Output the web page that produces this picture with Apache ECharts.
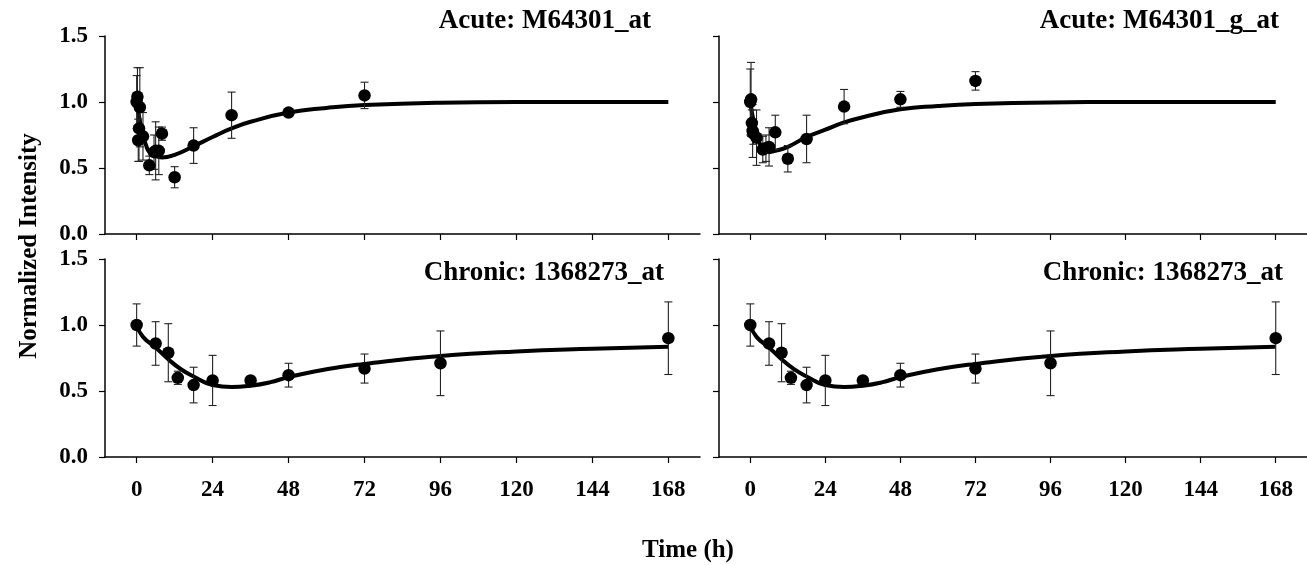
<!DOCTYPE html>
<html>
<head>
<meta charset="utf-8">
<script src="https://cdn.jsdelivr.net/npm/echarts@6/dist/echarts.min.js"></script>
<style>
html,body{margin:0;padding:0;background:#fff;}
#chart{width:1307px;height:565px;}
</style>
</head>
<body>
<div id="chart"></div>
<script>
// ---------- Data ----------
const panelTitles = ['Acute: M64301_at', 'Acute: M64301_g_at', 'Chronic: 1368273_at', 'Chronic: 1368273_at'];
const xTickValues = [0, 24, 48, 72, 96, 120, 144, 168];
const yTickValues = [0, 0.5, 1.0, 1.5];

// Panel A: Acute M64301_at (observed means, SD)
const acuteA_t   = [0, 0.25, 0.5, 0.75, 1, 2, 4, 5.5, 6, 7, 8, 12, 18, 30, 48, 72];
const acuteA_v   = [1.00, 1.04, 0.71, 0.80, 0.96, 0.74, 0.52, 0.62, 0.63, 0.63, 0.76, 0.43, 0.67, 0.90, 0.92, 1.05];
const acuteA_e   = [0.20, 0.22, 0.16, 0.25, 0.30, 0.18, 0.07, 0.13, 0.22, 0.18, 0.05, 0.08, 0.135, 0.175, 0.02, 0.10];
// fitted curve
const acuteA_ft  = [0, 1, 2, 3, 4, 6, 8, 12, 18, 24, 30, 36, 48, 60, 72, 96, 120, 144, 168];
const acuteA_fv  = [1.0, 0.86, 0.75, 0.67, 0.62, 0.59, 0.58, 0.60, 0.665, 0.735, 0.80, 0.85, 0.92, 0.955, 0.977, 0.995, 1.0, 1.0, 1.0];

// Panel B: Acute M64301_g_at
const acuteB_t   = [0, 0.25, 0.5, 0.75, 1, 2, 4, 5, 6, 8, 12, 18, 30, 48, 72];
const acuteB_v   = [1.00, 1.02, 0.84, 0.78, 0.76, 0.73, 0.64, 0.65, 0.66, 0.77, 0.57, 0.72, 0.965, 1.02, 1.16];
const acuteB_e   = [0.25, 0.28, 0.10, 0.20, 0.08, 0.21, 0.10, 0.10, 0.145, 0.13, 0.10, 0.18, 0.13, 0.06, 0.07];
const acuteB_ft  = [0, 1, 2, 3, 4, 6, 8, 12, 18, 24, 30, 36, 48, 60, 72, 96, 120, 144, 168];
const acuteB_fv  = [1.0, 0.86, 0.76, 0.69, 0.65, 0.62, 0.63, 0.66, 0.735, 0.79, 0.845, 0.885, 0.945, 0.97, 0.985, 0.997, 1.0, 1.0, 1.0];

// Panels C/D: Chronic 1368273_at
const chronic_t  = [0, 6, 10, 13, 18, 24, 36, 48, 72, 96, 168];
const chronic_v  = [1.00, 0.86, 0.79, 0.60, 0.545, 0.58, 0.58, 0.62, 0.67, 0.71, 0.90];
const chronic_e  = [0.16, 0.165, 0.22, 0.05, 0.135, 0.19, 0.02, 0.09, 0.11, 0.245, 0.275];
const chronic_ft = [0, 2, 6, 10, 14, 18, 24, 30, 36, 42, 48, 60, 72, 96, 120, 144, 168];
const chronic_fv = [1.0, 0.91, 0.83, 0.74, 0.665, 0.61, 0.545, 0.53, 0.54, 0.565, 0.605, 0.665, 0.705, 0.765, 0.80, 0.82, 0.835];

// ---------- Build ----------
const FONT = 'Liberation Serif';
const panels = [
  {t: acuteA_t, v: acuteA_v, e: acuteA_e, ft: acuteA_ft, fv: acuteA_fv},
  {t: acuteB_t, v: acuteB_v, e: acuteB_e, ft: acuteB_ft, fv: acuteB_fv},
  {t: chronic_t, v: chronic_v, e: chronic_e, ft: chronic_ft, fv: chronic_fv},
  {t: chronic_t, v: chronic_v, e: chronic_e, ft: chronic_ft, fv: chronic_fv}
];
const gridBoxes = [
  {left: 105, top: 36, width: 595, height: 198},
  {left: 719, top: 36, width: 595, height: 198},
  {left: 105, top: 259, width: 595, height: 198},
  {left: 719, top: 259, width: 595, height: 198}
];
const titlePos = [
  {x: 651, y: 21}, {x: 1279, y: 21}, {x: 664, y: 273}, {x: 1283, y: 273}
];

const axisLine = {show: true, onZero: false, lineStyle: {color: '#000', width: 1.5}};
const xAxes = [], yAxes = [], series = [], graphics = [];
for (let i = 0; i < 4; i++) {
  const isBottom = i >= 2, isLeft = i % 2 === 0;
  xAxes.push({
    type: 'value', gridIndex: i, min: -10, max: 178,
    axisLine: axisLine,
    axisTick: {show: true, length: 6, customValues: xTickValues, lineStyle: {color: '#000', width: 1.2}},
    axisLabel: {show: isBottom, customValues: xTickValues, margin: 22,
      fontFamily: FONT, fontWeight: 'bold', fontSize: 23, color: '#000'},
    splitLine: {show: false}
  });
  yAxes.push({
    type: 'value', gridIndex: i, min: 0, max: 1.5, interval: 0.5,
    axisLine: axisLine,
    axisTick: {show: true, length: 6, lineStyle: {color: '#000', width: 1.2}},
    axisLabel: {show: isLeft, margin: 17, fontFamily: FONT, fontWeight: 'bold', fontSize: 23, color: '#000',
      formatter: v => v.toFixed(1)},
    splitLine: {show: false}
  });
  const p = panels[i];
  series.push({
    type: 'line', xAxisIndex: i, yAxisIndex: i, smooth: 0.5, showSymbol: false,
    lineStyle: {color: '#000', width: 4}, z: 2, silent: true,
    data: p.ft.map((t, k) => [t, p.fv[k]])
  });
  series.push({
    type: 'custom', xAxisIndex: i, yAxisIndex: i, z: 3, silent: true,
    encode: {x: 0, y: [1, 2]},
    data: p.t.map((t, k) => [t, p.v[k] - p.e[k], p.v[k] + p.e[k]]),
    renderItem: function (params, api) {
      const hi = api.coord([api.value(0), api.value(2)]);
      const lo = api.coord([api.value(0), api.value(1)]);
      const w = 4;
      const st = {stroke: '#222', lineWidth: 1.1};
      return {type: 'group', children: [
        {type: 'line', shape: {x1: hi[0], y1: hi[1], x2: lo[0], y2: lo[1]}, style: st},
        {type: 'line', shape: {x1: hi[0] - w, y1: hi[1], x2: hi[0] + w, y2: hi[1]}, style: st},
        {type: 'line', shape: {x1: lo[0] - w, y1: lo[1], x2: lo[0] + w, y2: lo[1]}, style: st}
      ]};
    }
  });
  series.push({
    type: 'scatter', xAxisIndex: i, yAxisIndex: i, symbol: 'circle', symbolSize: 12.5, z: 4, silent: true,
    itemStyle: {color: '#000', opacity: 1},
    data: p.t.map((t, k) => [t, p.v[k]])
  });
  graphics.push({
    type: 'text', x: titlePos[i].x, y: titlePos[i].y,
    style: {text: panelTitles[i], font: 'bold 27px "Liberation Serif"', fill: '#000', textAlign: 'right', textVerticalAlign: 'middle'}
  });
}
graphics.push({
  type: 'text', x: 30, y: 246, rotation: Math.PI / 2,
  style: {text: 'Normalized Intensity', font: 'bold 25px "Liberation Serif"', fill: '#000', textAlign: 'center', textVerticalAlign: 'middle'}
});
graphics.push({
  type: 'text', x: 688, y: 551,
  style: {text: 'Time (h)', font: 'bold 25px "Liberation Serif"', fill: '#000', textAlign: 'center', textVerticalAlign: 'middle'}
});

const chart = echarts.init(document.getElementById('chart'), null, {renderer: 'canvas'});
chart.setOption({
  animation: false,
  backgroundColor: '#fff',
  grid: gridBoxes.map(g => Object.assign({containLabel: false}, g)),
  xAxis: xAxes,
  yAxis: yAxes,
  series: series,
  graphic: graphics
});
</script>
</body>
</html>
